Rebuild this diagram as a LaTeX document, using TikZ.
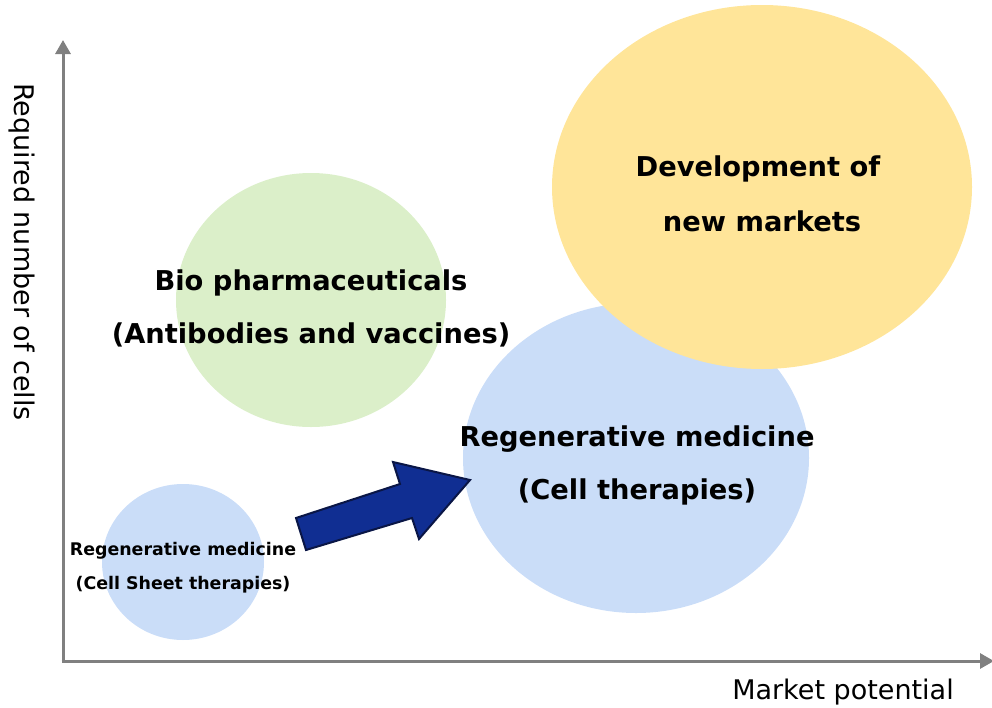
\documentclass[tikz,border=0pt]{standalone}
\usepackage{fontspec}
\setmainfont{DejaVu Sans}
\usetikzlibrary{arrows.meta}
\definecolor{axisgray}{RGB}{128,128,128}
\definecolor{bubgreen}{RGB}{219,239,201}
\definecolor{bubblue}{RGB}{202,221,248}
\definecolor{bubyellow}{RGB}{255,229,153}
\definecolor{arrowfill}{RGB}{16,46,146}
\definecolor{arrowline}{RGB}{10,22,70}
\begin{document}
\begin{tikzpicture}[x=1pt,y=-1pt,
  axis/.style={draw=axisgray,line width=3pt,-{Triangle[length=14pt,width=15pt]}},
  bigtxt/.style={font=\fontsize{27.3}{27.3}\selectfont\bfseries,align=center,inner sep=0pt},
  smalltxt/.style={font=\fontsize{17.4}{17.4}\selectfont\bfseries,align=center,inner sep=0pt},
  axtxt/.style={font=\fontsize{27}{27}\selectfont,inner sep=0pt}]
\useasboundingbox (0,0) rectangle (992,707);
% axes
\coordinate (origin) at (63,661);
\coordinate (ytip) at (63,40);
\coordinate (xtip) at (994,661);
\draw[axis] (63,662.5) -- (ytip);
\draw[axis] (61.5,661) -- (xtip);
% bubbles
\fill[bubgreen] (311,300) ellipse [x radius=135, y radius=127];
\fill[bubblue] (183,562) ellipse [x radius=81, y radius=78];
\fill[bubblue] (636,458) ellipse [x radius=173, y radius=155];
\fill[bubyellow] (762,187) ellipse [x radius=210, y radius=182];
% block arrow
\draw[fill=arrowfill,draw=arrowline,line width=2pt,line join=miter]
  (296,518) -- (400,484) -- (393,462) -- (470,480) -- (419,539) -- (412,518) -- (306,550) -- cycle;
% labels
\node[bigtxt] (dev1) at (758,169) {Development of};
\node[bigtxt] (dev2) at (762,221) {new markets};
\node[bigtxt] (bio1) at (311,283) {Bio pharmaceuticals};
\node[bigtxt] (bio2) at (311,335) {(Antibodies and vaccines)};
\node[bigtxt] (reg1) at (637,439) {Regenerative medicine};
\node[bigtxt] (reg2) at (637,492) {(Cell therapies)};
\node[smalltxt] (sh1) at (183,551) {Regenerative medicine};
\node[smalltxt] (sh2) at (183,585) {(Cell Sheet therapies)};
\node[axtxt] (xlab) at (843,692) {Market potential};
\node[axtxt,rotate=-90] (ylab) at (22,252) {Required number of cells};
\end{tikzpicture}
\end{document}
